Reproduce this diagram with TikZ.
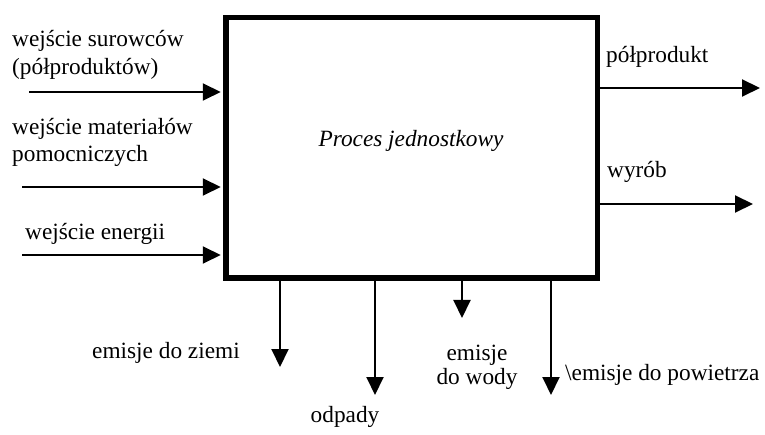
\documentclass[tikz,border=0pt]{standalone}
\usepackage{fontspec}
\setmainfont{Liberation Serif}
\usetikzlibrary{arrows.meta}
\begin{document}
\begin{tikzpicture}[x=1pt,y=-1pt,
  lbl/.style={inner sep=0pt,font=\fontsize{23.3}{28}\selectfont},
  flow/.style={line width=2pt,-{Triangle[length=18pt,width=17pt]}},
  procbox/.style={draw,line width=5.5pt,minimum width=371.5pt,minimum height=260.5pt,inner sep=0pt}]
\useasboundingbox (0,0) rectangle (765,435);
\node[procbox] (box) at (411.75,147.75) {};
\node[lbl,anchor=base] (proc) at (411,147) {\itshape Proces jednostkowy};
% inputs
\node[lbl,anchor=base west] (t1a) at (12,47) {wejście surowców};
\node[lbl,anchor=base west] (t1b) at (12,75) {(półproduktów)};
\node[lbl,anchor=base west] (t2a) at (12,135) {wejście materiałów};
\node[lbl,anchor=base west] (t2b) at (12,162) {pomocniczych};
\node[lbl,anchor=base west] (t3) at (25,240) {wejście energii};
\coordinate (in1) at (29,92);
\coordinate (in2) at (22,187);
\coordinate (in3) at (22,255);
\draw[flow,shorten >=2.5pt] (in1) -- (in1 -| box.west);
\draw[flow,shorten >=2.5pt] (in2) -- (in2 -| box.west);
\draw[flow,shorten >=2.5pt] (in3) -- (in3 -| box.west);
% outputs
\node[lbl,anchor=base west] (o1) at (606,63) {półprodukt};
\node[lbl,anchor=base west] (o2) at (607,178) {wyrób};
\coordinate (out1) at (760,88);
\coordinate (out2) at (753,204);
\draw[flow] (out1 -| box.east) -- (out1);
\draw[flow] (out2 -| box.east) -- (out2);
% bottom
\coordinate (b1) at (280,367);
\coordinate (b2) at (375,395);
\coordinate (b3) at (462,318);
\coordinate (b4) at (551,395);
\draw[flow] (b1 |- box.south) -- (b1);
\draw[flow] (b2 |- box.south) -- (b2);
\draw[flow] (b3 |- box.south) -- (b3);
\draw[flow] (b4 |- box.south) -- (b4);
\node[lbl,anchor=base west] (e1) at (92,358) {emisje do ziemi};
\node[lbl,anchor=base] (e2) at (345,422) {odpady};
\node[lbl,anchor=base] (e3a) at (477,360) {emisje};
\node[lbl,anchor=base] (e3b) at (477,384) {do wody};
\node[lbl,anchor=base west] (e4) at (565,380) {\textbackslash emisje do powietrza};
\end{tikzpicture}
\end{document}
